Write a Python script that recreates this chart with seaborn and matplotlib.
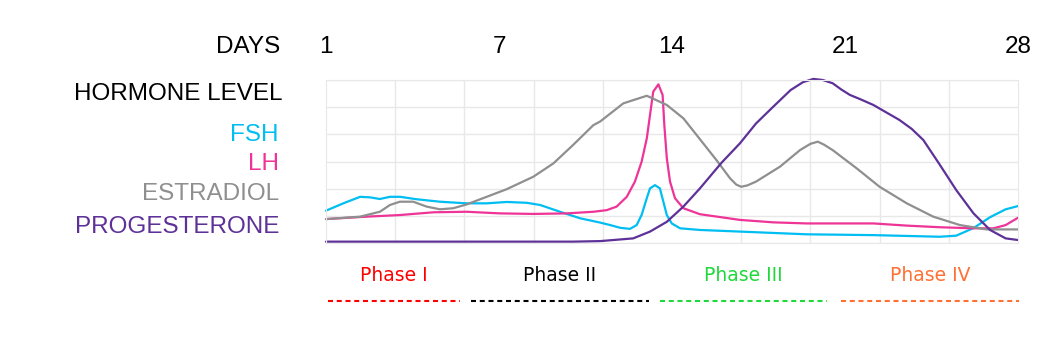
import numpy as np
import pandas as pd
import matplotlib
matplotlib.use('Agg')
import matplotlib.pyplot as plt
import seaborn as sns

# ── data (x = day position 0..28 across the plot, y = relative level 0..6) ──
day_ticks = [0, 7, 14, 21, 28]
day_labels = ['1', '7', '14', '21', '28']

fsh_x = [0, 0.7, 1.38, 1.78, 2.18, 2.59, 3.0, 3.67, 4.61, 5.69, 6.5, 7.31, 8.12,
         8.66, 9.47, 10.28, 11.1, 11.5, 11.9, 12.3, 12.57, 12.77, 12.98, 13.11,
         13.31, 13.51, 13.65, 13.79, 13.99, 14.33, 15.13, 16.75, 19.45, 22.15,
         24.84, 25.5, 26.2, 26.87, 27.5, 28]
fsh_y = [1.19, 1.46, 1.70, 1.68, 1.62, 1.70, 1.70, 1.61, 1.52, 1.46, 1.46, 1.51,
         1.48, 1.40, 1.15, 0.91, 0.75, 0.66, 0.56, 0.52, 0.66, 1.03, 1.65, 2.01,
         2.13, 2.01, 1.52, 1.03, 0.72, 0.54, 0.48, 0.42, 0.32, 0.29,
         0.23, 0.27, 0.55, 0.95, 1.24, 1.36]

lh_x = [0, 1.65, 3.0, 4.34, 5.69, 7.04, 8.39, 9.74, 10.82, 11.36, 11.76, 12.17,
        12.5, 12.77, 12.98, 13.11, 13.24, 13.45, 13.62, 13.69, 13.79, 13.92,
        14.12, 14.46, 15.13, 16.75, 18.1, 19.45, 22.15, 23.5, 24.84, 26.2,
        27.0, 27.5, 28]
lh_y = [0.88, 0.97, 1.03, 1.13, 1.15, 1.09, 1.07, 1.09, 1.15, 1.21, 1.34, 1.70,
        2.26, 2.99, 3.85, 4.71, 5.57, 5.84, 5.45, 4.34, 3.12, 2.26,
        1.65, 1.28, 1.06, 0.85, 0.76, 0.72, 0.72, 0.64, 0.58, 0.54,
        0.54, 0.66, 0.93]

est_x = [0, 1.38, 2.18, 2.59, 2.99, 3.53, 4.07, 4.61, 5.15, 5.69, 6.5, 7.31, 8.39,
         9.2, 10.0, 10.82, 11.09, 12.03, 12.98, 13.79, 14.46, 15.0, 15.8, 16.35,
         16.6, 16.8, 17.05, 17.4, 18.37, 19.18, 19.6, 19.9, 20.15, 20.5, 21.47,
         22.4, 23.5, 24.57, 25.65, 26.73, 28]
est_y = [0.88, 0.97, 1.15, 1.40, 1.52, 1.52, 1.34, 1.24, 1.28, 1.42, 1.70, 1.98,
         2.44, 2.93, 3.61, 4.34, 4.47, 5.14, 5.42, 5.08, 4.59, 3.97, 3.05, 2.38,
         2.15, 2.07, 2.12, 2.26, 2.81, 3.42, 3.65, 3.73, 3.62, 3.42, 2.75,
         2.07, 1.46, 0.97, 0.66, 0.50, 0.50]

prog_x = [0, 5, 10, 11.1, 12.43, 13.11, 13.79, 14.46, 15.13, 16.0, 16.75, 17.4,
          18.1, 18.8, 19.3, 19.72, 20.1, 20.5, 20.85, 21.2, 21.6, 22.15, 23.2,
          23.7, 24.17, 24.8, 25.5, 26.2, 26.87, 27.5, 28]
prog_y = [0.05, 0.05, 0.05, 0.07, 0.17, 0.42, 0.78, 1.34, 2.01, 2.95, 3.67, 4.4,
          5.02, 5.63, 5.92, 6.04, 6.0, 5.88, 5.65, 5.45, 5.3, 5.08, 4.53,
          4.2, 3.79, 2.93, 1.95, 1.09, 0.48, 0.17, 0.11]

hormones = ['FSH', 'LH', 'ESTRADIOL', 'PROGESTERONE']
hormone_colors = ['#00BEF2', '#EE3497', '#8F8F8F', '#5E3198']

phases = ['Phase I', 'Phase II', 'Phase III', 'Phase IV']
phase_colors = ['#FF0000', '#000000', '#1FD83A', '#FF7033']
phase_spans = [(0.08, 5.42), (5.87, 13.07), (13.51, 20.27), (20.84, 28.04)]

df = pd.concat([
    pd.DataFrame({'day': x, 'level': y, 'hormone': h})
    for x, y, h in zip([fsh_x, lh_x, est_x, prog_x],
                       [fsh_y, lh_y, est_y, prog_y], hormones)
], ignore_index=True)

# ── figure ───────────────────────────────────────────────────────────────────
sns.set_style('white')
plt.rcParams['font.family'] = ['Liberation Sans', 'DejaVu Sans']
plt.rcParams['text.color'] = 'black'
plt.rcParams['xtick.color'] = 'black'

fig = plt.figure(figsize=(10.48, 3.62), dpi=100)
ax = fig.add_axes([326 / 1048, 1 - 243 / 362, 692 / 1048, 163 / 362])

sns.lineplot(data=df, x='day', y='level', hue='hormone', hue_order=hormones,
             palette=hormone_colors, sort=False, estimator=None, lw=1.6,
             legend=False, ax=ax)
for ln in ax.lines:
    ln.set_solid_joinstyle('round')
    ln.set_clip_on(False)

ax.set_xlim(0, 28)
ax.set_ylim(0, 6)
ax.set_xticks(np.linspace(0, 28, 11), minor=True)
ax.set_yticks(range(7), minor=True)
ax.grid(which='minor', color='#e8e8e8', lw=1)
ax.set_yticks([])
ax.xaxis.tick_top()
ax.set_xticks(day_ticks)
ax.set_xticklabels(day_labels, fontsize=17.5)
ax.tick_params(axis='x', which='both', length=0, pad=16)
ax.set_xlabel('')
ax.set_ylabel('')
for s in ax.spines.values():
    s.set_color('#e8e8e8')

# left-side labels
fig.text(280 / 1048, 1 - 47 / 362, 'DAYS', ha='right', va='center',
         fontsize=17.5)
fig.text(283 / 1048, 1 - 94 / 362, 'HORMONE LEVEL', ha='right', va='center',
         fontsize=17.5)
for name, col, py in zip(hormones, hormone_colors, [135, 164, 194, 227]):
    fig.text(279 / 1048, 1 - py / 362, name, ha='right', va='center',
             fontsize=17.5, color=col)

# phases below the plot
for name, col, (x0, x1) in zip(phases, phase_colors, phase_spans):
    ax.text((x0 + x1) / 2, -1.21, name, ha='center', va='center', color=col,
            fontsize=13.5, family='DejaVu Sans', clip_on=False)
    ax.plot([x0, x1], [-2.13, -2.13], color=col, lw=1.5, ls=(0, (2.4, 1.8)),
            clip_on=False)

fig.savefig('out.png', dpi=100)
